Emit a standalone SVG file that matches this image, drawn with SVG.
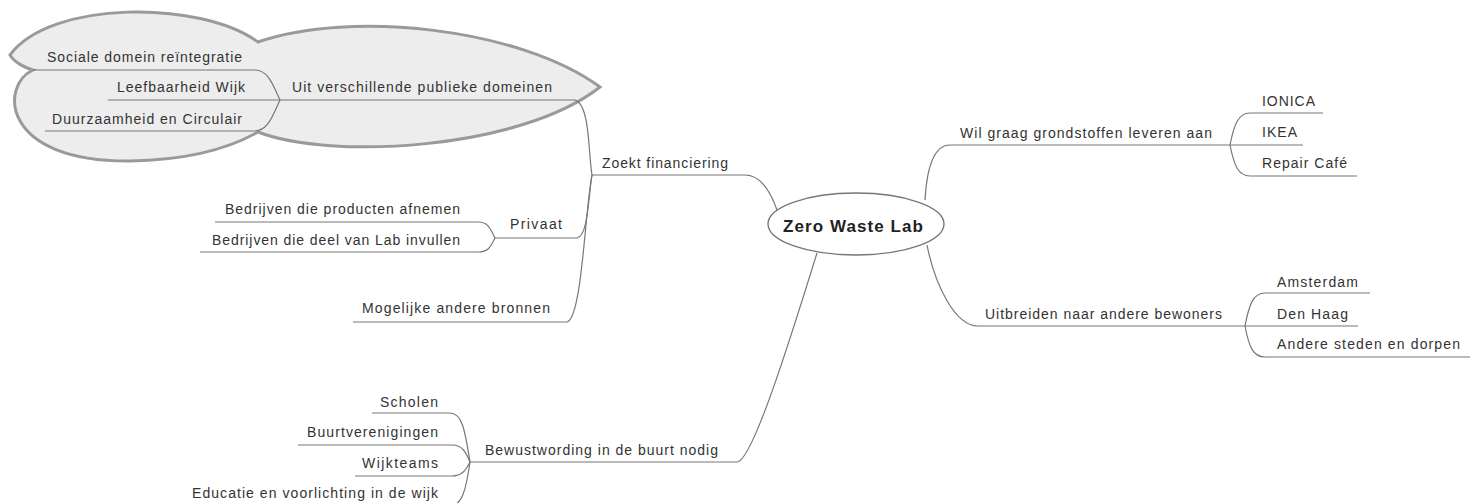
<svg xmlns="http://www.w3.org/2000/svg" width="1479" height="503" viewBox="0 0 1479 503">
<style>
.t{font-family:"Liberation Sans",Arial,sans-serif;font-size:14px;fill:#333;}
.b{font-family:"Liberation Sans",Arial,sans-serif;font-size:17px;font-weight:bold;fill:#222;}
.ln{fill:none;stroke:#777;stroke-width:1.2;}
.cloud{fill:#ededed;stroke:#9a9a9a;stroke-width:3;}
.root{fill:#fff;stroke:#777;stroke-width:1.4;}
</style>
<rect width="1479" height="503" fill="#fff"/>
<g id="cloud-shape">
<path class="cloud" d="M258,42 C200,0 50,0 10,55 C14,62 25,68 33,70 C0,85 0,162 130,161 C190,160 230,148 258,132 C330,160 520,150 600,87 C520,28 350,10 258,42 Z"/>
</g>
<g id="connectors">
<path class="ln" d="M592,175 L745,175 C760,175 770,190 777,210"/>
<path class="ln" d="M925,200 C927,165 935,145 950,145 L1230,145"/>
<path class="ln" d="M927,245 C935,285 955,326 978,326 L1245,326"/>
<path class="ln" d="M470,462 L737,462 C752,462 790,340 817,253"/>
<path class="ln" d="M592,175 C588,150 590,105 575,100 L280,100"/>
<path class="ln" d="M592,175 C588,200 588,236 577,238 L495,238"/>
<path class="ln" d="M592,175 C585,210 582,318 567,322 L353,322"/>
<path class="ln" d="M280,100 C273,85 268,70 255,70 L33,70"/>
<path class="ln" d="M280,100 L108,100"/>
<path class="ln" d="M280,100 C273,115 268,131 255,131 L45,131"/>
<path class="ln" d="M495,238 C490,228 488,222 478,222 L215,222"/>
<path class="ln" d="M495,238 C490,248 488,252 478,252 L200,252"/>
<path class="ln" d="M1230,145 C1234,125 1238,113 1250,113 L1323,113"/>
<path class="ln" d="M1230,145 L1303,145"/>
<path class="ln" d="M1230,145 C1234,165 1238,176 1250,176 L1357,176"/>
<path class="ln" d="M1245,326 C1249,305 1253,293 1265,293 L1370,293"/>
<path class="ln" d="M1245,326 L1358,326"/>
<path class="ln" d="M1245,326 C1249,347 1253,357 1265,357 L1470,357"/>
<path class="ln" d="M470,462 C465,430 462,413 450,413 L372,413"/>
<path class="ln" d="M470,462 C466,452 462,445 452,445 L298,445"/>
<path class="ln" d="M470,462 C466,470 462,476 452,476 L355,476"/>
<path class="ln" d="M470,462 C466,490 462,506 450,506 L185,506"/>
</g>
<g id="root">
<ellipse class="root" cx="856" cy="224" rx="88" ry="31"/>
<text class="b" x="783" y="232" textLength="140" lengthAdjust="spacing">Zero Waste Lab</text>
</g>
<g id="n-zoekt"><text class="t" x="602" y="168" textLength="126" lengthAdjust="spacing">Zoekt financiering</text></g>
<g id="n-publiek"><text class="t" x="292" y="92" textLength="260" lengthAdjust="spacing">Uit verschillende publieke domeinen</text></g>
<g id="n-sociaal"><text class="t" x="47" y="62" textLength="195" lengthAdjust="spacing">Sociale domein reïntegratie</text></g>
<g id="n-leefbaar"><text class="t" x="117" y="92" textLength="128" lengthAdjust="spacing">Leefbaarheid Wijk</text></g>
<g id="n-duurzaam"><text class="t" x="52" y="124" textLength="190" lengthAdjust="spacing">Duurzaamheid en Circulair</text></g>
<g id="n-privaat"><text class="t" x="510" y="229" textLength="52" lengthAdjust="spacing">Privaat</text></g>
<g id="n-afnemen"><text class="t" x="225" y="214" textLength="235" lengthAdjust="spacing">Bedrijven die producten afnemen</text></g>
<g id="n-invullen"><text class="t" x="212" y="245" textLength="248" lengthAdjust="spacing">Bedrijven die deel van Lab invullen</text></g>
<g id="n-bronnen"><text class="t" x="362" y="313" textLength="188" lengthAdjust="spacing">Mogelijke andere bronnen</text></g>
<g id="n-grondstoffen"><text class="t" x="960" y="138" textLength="252" lengthAdjust="spacing">Wil graag grondstoffen leveren aan</text></g>
<g id="n-ionica"><text class="t" x="1262" y="106" textLength="53" lengthAdjust="spacing">IONICA</text></g>
<g id="n-ikea"><text class="t" x="1262" y="137" textLength="35" lengthAdjust="spacing">IKEA</text></g>
<g id="n-repair"><text class="t" x="1262" y="168" textLength="85" lengthAdjust="spacing">Repair Café</text></g>
<g id="n-uitbreiden"><text class="t" x="985" y="319" textLength="237" lengthAdjust="spacing">Uitbreiden naar andere bewoners</text></g>
<g id="n-amsterdam"><text class="t" x="1277" y="287" textLength="81" lengthAdjust="spacing">Amsterdam</text></g>
<g id="n-denhaag"><text class="t" x="1277" y="319" textLength="71" lengthAdjust="spacing">Den Haag</text></g>
<g id="n-andere"><text class="t" x="1277" y="349" textLength="183" lengthAdjust="spacing">Andere steden en dorpen</text></g>
<g id="n-bewust"><text class="t" x="485" y="455" textLength="233" lengthAdjust="spacing">Bewustwording in de buurt nodig</text></g>
<g id="n-scholen"><text class="t" x="380" y="407" textLength="58" lengthAdjust="spacing">Scholen</text></g>
<g id="n-buurt"><text class="t" x="307" y="437" textLength="131" lengthAdjust="spacing">Buurtverenigingen</text></g>
<g id="n-wijkteams"><text class="t" x="362" y="468" textLength="76" lengthAdjust="spacing">Wijkteams</text></g>
<g id="n-educatie"><text class="t" x="192" y="498" textLength="246" lengthAdjust="spacing">Educatie en voorlichting in de wijk</text></g>
</svg>
